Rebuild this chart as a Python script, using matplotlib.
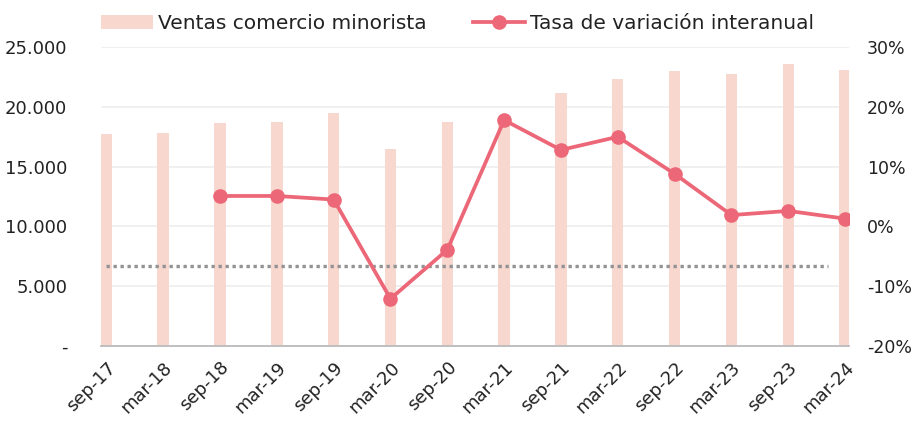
import matplotlib
matplotlib.use("Agg")
import matplotlib.pyplot as plt
from matplotlib.ticker import FuncFormatter

categories = ["sep-17", "mar-18", "sep-18", "mar-19", "sep-19", "mar-20", "sep-20",
              "mar-21", "sep-21", "mar-22", "sep-22", "mar-23", "sep-23", "mar-24"]
ventas = [17750, 17850, 18650, 18750, 19500, 16500, 18750,
          18950, 21150, 22300, 22980, 22750, 23570, 23070]
tasa = [None, None, 5.1, 5.1, 4.5, -12.1, -3.9,
        17.8, 12.8, 15.0, 8.8, 1.9, 2.6, 1.3]
referencia = -6.6  # dotted reference line (%)

plt.rcParams['font.family'] = ['DejaVu Sans']
bar_color = "#F8D7CE"
line_color = "#EC6777"

fig = plt.figure(figsize=(9.15, 4.25), dpi=100)
ax = fig.add_axes([0.110, 0.186, 0.818, 0.703])
ax2 = ax.twinx()

x = list(range(len(categories)))
ax.bar(x, ventas, width=0.2, color=bar_color, zorder=2, label="Ventas comercio minorista")
ax.set_ylim(0, 25000)
ax.set_yticks(range(0, 25001, 5000))
ax.yaxis.set_major_formatter(FuncFormatter(lambda v, p: "-" if v == 0 else f"{int(v):,}".replace(",", ".")))
ax.grid(axis='y', color="#EEEEEE", lw=1.2, zorder=0)
ax.set_axisbelow(True)

xs = [i for i, v in enumerate(tasa) if v is not None]
ys = [v for v in tasa if v is not None]
ax2.plot(xs, ys, color=line_color, lw=2.7, marker='o', markersize=9.5, zorder=4,
         label="Tasa de variación interanual")
ax2.hlines(referencia, 0, 12.7, colors="#939393", lw=2.4, linestyles=(0, (1, 1.1)), zorder=3)
ax2.set_ylim(-20, 30)
ax2.set_yticks(range(-20, 31, 10))
ax2.yaxis.set_major_formatter(FuncFormatter(lambda v, p: f"{int(v)}%"))

ax.set_xlim(-0.1, 13.07)
ax.set_xticks(x)
ax.set_xticklabels(categories, rotation=45, ha='right', rotation_mode='anchor')

for a in (ax, ax2):
    for s in ("top", "left", "right"):
        a.spines[s].set_visible(False)
    a.spines["bottom"].set_color("#BFBFBF")
    a.spines["bottom"].set_linewidth(1.2)
    a.tick_params(length=0, labelsize=13, colors="#222222")
ax.tick_params(axis='y', pad=24)
ax2.tick_params(axis='y', pad=13, labelsize=12.5)
ax.tick_params(axis='x', pad=9)

h1, l1 = ax.get_legend_handles_labels()
h2, l2 = ax2.get_legend_handles_labels()
fig.legend(h1 + h2, l1 + l2, loc='upper center', bbox_to_anchor=(0.5, 1.01), ncol=2,
           frameon=False, fontsize=14.5, handlelength=2.6, columnspacing=2.3, handletextpad=0.25,
           labelcolor="#222222")

fig.savefig("out.png", dpi=100)
